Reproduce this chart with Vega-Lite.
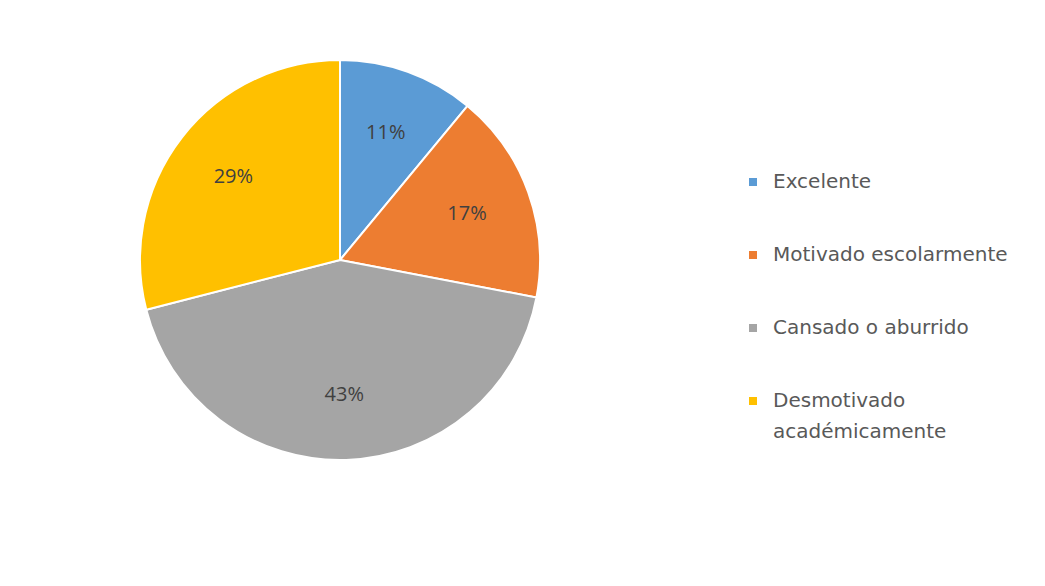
{
  "$schema": "https://vega.github.io/schema/vega-lite/v6.json",
  "width": 660,
  "height": 440,
  "padding": {"left": 10, "top": 40, "right": 0, "bottom": 0},
  "background": "white",
  "config": {"view": {"stroke": null}, "font": "Open Sans", "style": {"guide-label": {"lineHeight": 31}}},
  "data": {
    "values": [
      {"categoria": "Excelente", "valor": 11, "etiqueta": "11%", "orden": 1},
      {"categoria": "Motivado escolarmente", "valor": 17, "etiqueta": "17%", "orden": 2},
      {"categoria": "Cansado o aburrido", "valor": 43, "etiqueta": "43%", "orden": 3},
      {"categoria": "Desmotivado académicamente", "valor": 29, "etiqueta": "29%", "orden": 4}
    ]
  },
  "encoding": {
    "theta": {"field": "valor", "type": "quantitative", "stack": true},
    "order": {"field": "orden", "type": "quantitative"},
    "color": {
      "field": "categoria",
      "type": "nominal",
      "sort": ["Excelente", "Motivado escolarmente", "Cansado o aburrido", "Desmotivado académicamente"],
      "scale": {
        "domain": ["Excelente", "Motivado escolarmente", "Cansado o aburrido", "Desmotivado académicamente"],
        "range": ["#5B9BD5", "#ED7D31", "#A5A5A5", "#FFC000"]
      },
      "legend": {
        "title": null,
        "orient": "none",
        "legendX": 733,
        "legendY": 132,
        "padding": 0,
        "symbolType": "square",
        "symbolSize": 64,
        "symbolStrokeWidth": 0,
        "labelFont": "DejaVu Sans",
        "labelFontSize": 20,
        "labelColor": "#595959",
        "labelLimit": 400,
        "labelOffset": 10,
        "rowPadding": 53,
        "labelExpr": "datum.label == 'Desmotivado académicamente' ? ['Desmotivado', 'académicamente'] : datum.label",
        "encode": {"labels": {"enter": {"lineHeight": {"value": 31}}, "update": {"lineHeight": {"value": 31}}}}
      }
    }
  },
  "layer": [
    {
      "mark": {"type": "arc", "outerRadius": 200, "stroke": "white", "strokeWidth": 2}
    },
    {
      "mark": {"type": "text", "radius": 135, "fontSize": 20, "font": "Open Sans"},
      "encoding": {
        "text": {"field": "etiqueta", "type": "nominal"},
        "color": {"value": "#404040"}
      }
    }
  ]
}
